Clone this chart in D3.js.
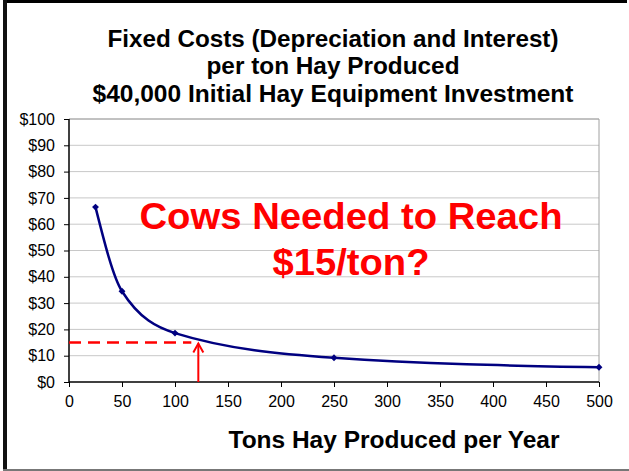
<!DOCTYPE html>
<html>
<head>
<meta charset="utf-8">
<script src="https://cdn.jsdelivr.net/npm/d3@7"></script>
<style>
  body { margin: 0; background: #fff; }
  svg { display: block; font-family: "Liberation Sans", Arial, sans-serif; }
</style>
</head>
<body>
<svg id="chart" width="629" height="471"></svg>
<script>
// data
var tons = [25, 50, 100, 250, 500];
var costPerTon = [66.5, 34.5, 18.6, 9.2, 5.6];
var xTicks = [0, 50, 100, 150, 200, 250, 300, 350, 400, 450, 500];
var yTicks = [0, 10, 20, 30, 40, 50, 60, 70, 80, 90, 100];
var titleLines = ["Fixed Costs (Depreciation and Interest)", "per ton Hay Produced", "$40,000 Initial Hay Equipment Investment"];
var noteLines = ["Cows Needed to Reach", "$15/ton?"];
var targetCost = 15;
var targetTons = 122;

var svg = d3.select("#chart");

// slide frame
svg.append("rect").attr("x", 3).attr("y", 0).attr("width", 624).attr("height", 3).attr("fill", "#000");
svg.append("rect").attr("x", 3).attr("y", 0).attr("width", 4).attr("height", 471).attr("fill", "#111");
svg.append("rect").attr("x", 3).attr("y", 469).attr("width", 626).attr("height", 2).attr("fill", "#777");

var x = d3.scaleLinear().domain([0, 500]).range([69, 599]);
var y = d3.scaleLinear().domain([0, 100]).range([382, 119]);

// gridlines
svg.append("g").selectAll("line").data(yTicks.slice(1)).join("line")
  .attr("x1", 69).attr("x2", 599)
  .attr("y1", d => y(d)).attr("y2", d => y(d))
  .attr("stroke", "#c8c8c8").attr("stroke-width", 1);
svg.append("line").attr("x1", 599).attr("x2", 599).attr("y1", 119).attr("y2", 382)
  .attr("stroke", "#a0a0a0");
svg.append("line").attr("x1", 69).attr("x2", 599).attr("y1", 119).attr("y2", 119)
  .attr("stroke", "#a0a0a0");

// axes
var yAxis = d3.axisLeft(y).tickValues(yTicks).tickFormat(d => "$" + d).tickSize(5).tickPadding(9);
var gy = svg.append("g").attr("transform", "translate(69,0)").call(yAxis);
var xAxis = d3.axisBottom(x).tickValues(xTicks).tickSize(5).tickPadding(9);
var gx = svg.append("g").attr("transform", "translate(0,382)").call(xAxis);
[gx, gy].forEach(function (g) {
  g.select(".domain").attr("stroke", "#000").attr("stroke-width", 1.5);
  g.selectAll(".tick line").attr("stroke", "#000");
  g.selectAll("text").attr("font-size", 16).attr("font-family", "Liberation Sans, Arial, sans-serif").attr("fill", "#000");
});
gy.select(".domain").attr("d", "M0,119V382");
gx.select(".domain").attr("d", "M69,0H599");

// curve
var pts = tons.map((t, i) => [t, costPerTon[i]]);
var line = d3.line().x(d => x(d[0])).y(d => y(d[1])).curve(d3.curveMonotoneX);
svg.append("path").datum(pts).attr("d", line)
  .attr("fill", "none").attr("stroke", "#000080").attr("stroke-width", 2.5);
svg.append("g").selectAll("path").data(pts).join("path")
  .attr("d", d3.symbol().type(d3.symbolDiamond2).size(30))
  .attr("transform", d => "translate(" + x(d[0]) + "," + y(d[1]) + ")")
  .attr("fill", "#000080");

// $15 target dashes and arrow
svg.append("line")
  .attr("x1", x(0)).attr("x2", x(targetTons) - 7)
  .attr("y1", y(targetCost)).attr("y2", y(targetCost))
  .attr("stroke", "#ff0000").attr("stroke-width", 2.5).attr("stroke-dasharray", "12,7");
var ax = x(targetTons), aTop = y(targetCost) + 1;
svg.append("line").attr("x1", ax).attr("x2", ax).attr("y1", y(0)).attr("y2", aTop)
  .attr("stroke", "#ff0000").attr("stroke-width", 2);
svg.append("path").attr("d", "M" + (ax - 5) + "," + (aTop + 9) + "L" + ax + "," + aTop + "L" + (ax + 5) + "," + (aTop + 9))
  .attr("fill", "none").attr("stroke", "#ff0000").attr("stroke-width", 2);

// titles
var titleY = [47, 74, 102];
var titleW = [451, 253, 481];
svg.append("g").selectAll("text").data(titleLines).join("text")
  .attr("x", 333).attr("y", (d, i) => titleY[i])
  .attr("text-anchor", "middle").attr("font-weight", "bold").attr("font-size", 23)
  .attr("textLength", (d, i) => titleW[i]).attr("lengthAdjust", "spacingAndGlyphs")
  .text(d => d);

var noteY = [229, 275];
var noteW = [423, 157];
svg.append("g").selectAll("text").data(noteLines).join("text")
  .attr("x", 351).attr("y", (d, i) => noteY[i])
  .attr("text-anchor", "middle").attr("font-weight", "bold").attr("font-size", 36)
  .attr("textLength", (d, i) => noteW[i]).attr("lengthAdjust", "spacingAndGlyphs")
  .attr("fill", "#ff0000")
  .text(d => d);

svg.append("text").attr("x", 394).attr("y", 448)
  .attr("text-anchor", "middle").attr("font-weight", "bold").attr("font-size", 23)
  .attr("textLength", 331).attr("lengthAdjust", "spacingAndGlyphs")
  .text("Tons Hay Produced per Year");
</script>
</body>
</html>
